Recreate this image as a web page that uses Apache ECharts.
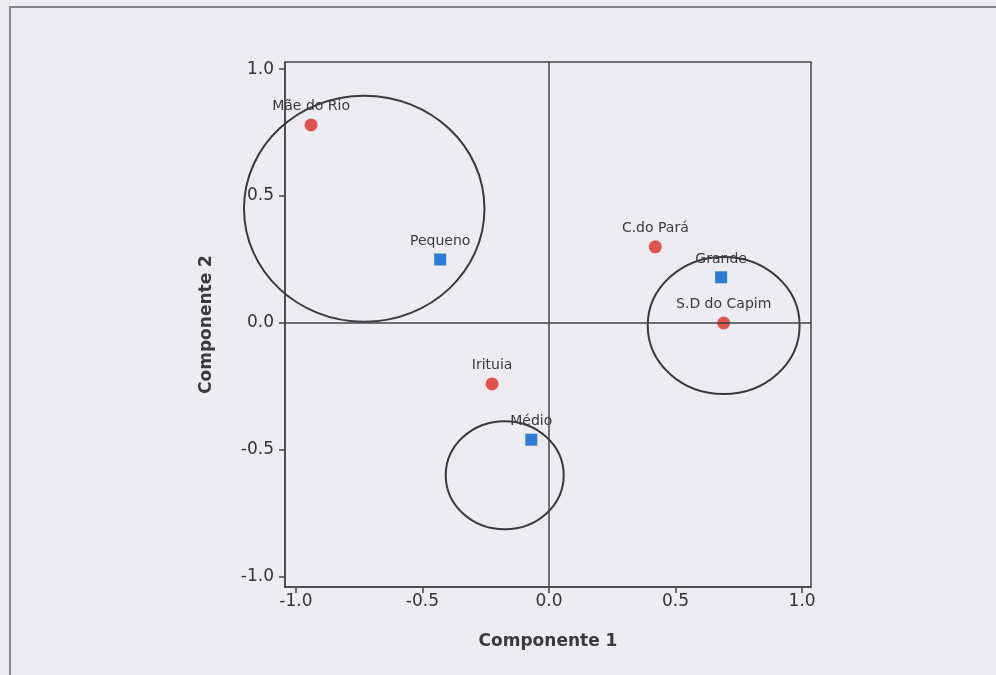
<!DOCTYPE html>
<html><head><meta charset="utf-8">
<script src="https://cdn.jsdelivr.net/npm/echarts@6/dist/echarts.min.js"></script>
<style>html,body{margin:0;padding:0;background:#edecf3;}#c{width:996px;height:675px;}</style>
</head><body><div id="c"></div>
<script>
const municipios = ["Mãe do Rio", "C.do Pará", "S.D do Capim", "Irituia"];
const munX = [-0.94, 0.42, 0.69, -0.225];
const munY = [0.78, 0.30, 0.0, -0.24];
const grupos = ["Pequeno", "Grande", "Médio"];
const grpX = [-0.43, 0.68, -0.07];
const grpY = [0.25, 0.18, -0.46];
// circles: center x, center y, radius x, radius y
const circX = [-0.73, 0.69, -0.175];
const circY = [0.45, -0.01, -0.60];
const circRX = [0.475, 0.30, 0.233];
const circRY = [0.445, 0.27, 0.213];
const tickVals = [-1.0, -0.5, 0.0, 0.5, 1.0];

const chart = echarts.init(document.getElementById('c'));
const font = "DejaVu Sans";
const labelStyle = {show:true, position:'top', distance:5, fontFamily:font, fontSize:14, color:'#3a3a3a',
  formatter: p => p.data.name};
chart.setOption({
  backgroundColor:'#edecf3',
  animation:false,
  graphic:[{type:'rect', shape:{x:10, y:7, width:1000, height:700}, style:{fill:'none', stroke:'#888', lineWidth:2}, z:-1}],
  grid:{left:285, right:185, top:62, bottom:88, show:true, borderColor:'#444', borderWidth:1.5, backgroundColor:'transparent'},
  xAxis:{type:'value', min:-1.043, max:1.035, name:'Componente 1', nameLocation:'middle', nameGap:46,
    nameTextStyle:{fontFamily:font, fontSize:17, fontWeight:'bold', color:'#3a3a3a'},
    axisLine:{show:true, onZero:false, lineStyle:{color:'#444', width:1.5}},
    axisTick:{show:true, length:6, customValues:tickVals, lineStyle:{color:'#444', width:1.5}},
    axisLabel:{customValues:tickVals, fontFamily:font, fontSize:17, color:'#333', margin:6, formatter:v=>v.toFixed(1)},
    splitLine:{show:false}},
  yAxis:{type:'value', min:-1.04, max:1.028, name:'Componente 2', nameLocation:'middle', nameGap:70, nameRotate:90,
    nameTextStyle:{fontFamily:font, fontSize:17, fontWeight:'bold', color:'#3a3a3a'},
    axisLine:{show:true, onZero:false, lineStyle:{color:'#444', width:1.5}},
    axisTick:{show:true, length:6, customValues:tickVals, lineStyle:{color:'#444', width:1.5}},
    axisLabel:{customValues:tickVals, fontFamily:font, fontSize:17, color:'#333', margin:11, formatter:v=>v.toFixed(1)},
    splitLine:{show:false}},
  series:[
    {type:'custom', silent:true, z:3,
      data: circX.map((x,i)=>[x, circY[i], circRX[i], circRY[i]]),
      renderItem:(params, api)=>{
        const c = api.coord([api.value(0), api.value(1)]);
        const s = api.size([api.value(2), api.value(3)]);
        return {type:'ellipse', shape:{cx:c[0], cy:c[1], rx:s[0], ry:s[1]}, style:{fill:'none', stroke:'#3a3a3a', lineWidth:2}};
      }},
    {type:'scatter', symbol:'circle', symbolSize:13, z:4,
      itemStyle:{color:'#e0524a', opacity:1},
      data: municipios.map((n,i)=>({name:n, value:[munX[i], munY[i]]})),
      label: labelStyle,
      markLine:{silent:true, symbol:'none', label:{show:false}, lineStyle:{color:'#444', width:1.5, type:'solid'},
        data:[{xAxis:0}, {yAxis:0}]}},
    {type:'scatter', symbol:'rect', symbolSize:12, z:4,
      itemStyle:{color:'#2e7dd4', opacity:1},
      data: grupos.map((n,i)=>({name:n, value:[grpX[i], grpY[i]]})),
      label: labelStyle}
  ]
});
</script></body></html>
